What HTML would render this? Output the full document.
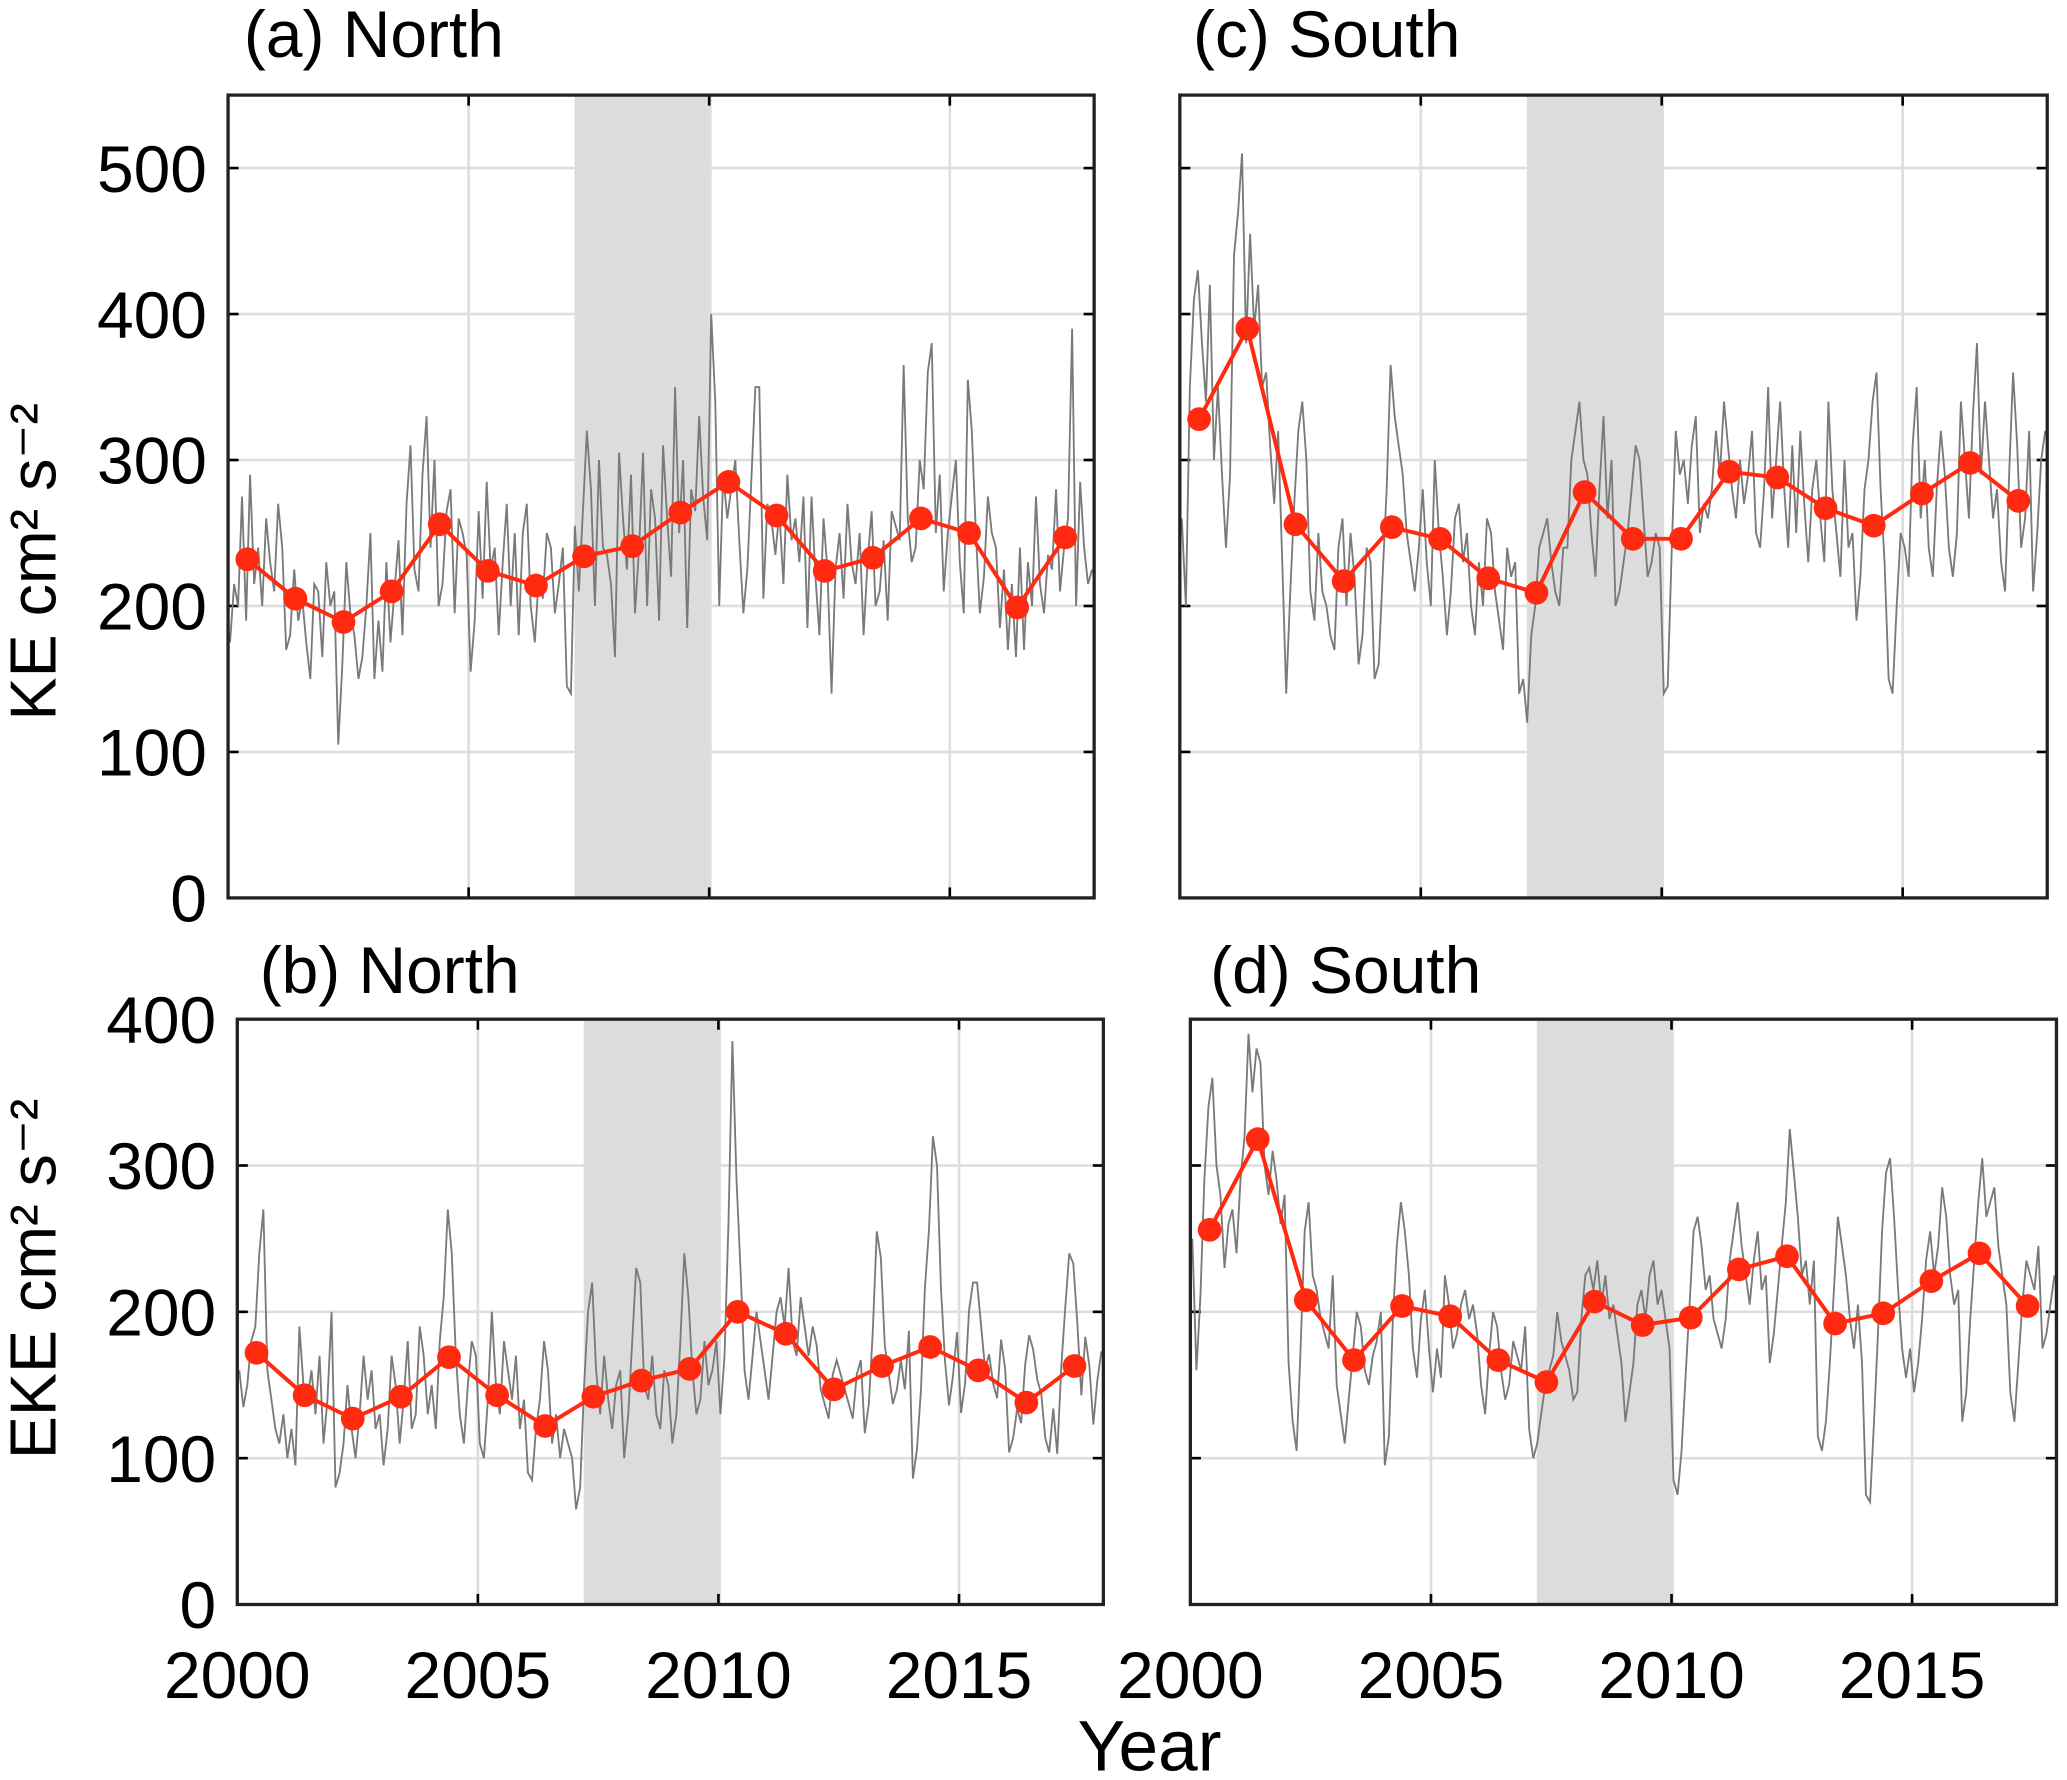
<!DOCTYPE html>
<html><head><meta charset="utf-8"><style>
html,body{margin:0;padding:0;background:#fff;}
svg{display:block;font-family:"Liberation Sans",Arial,sans-serif;}
</style></head><body>
<svg id="fig" width="2067" height="1780" viewBox="0 0 1568 1350" xmlns="http://www.w3.org/2000/svg"></svg>
<script>
const years = [2000,2001,2002,2003,2004,2005,2006,2007,2008,2009,2010,2011,2012,2013,2014,2015,2016,2017];
const xTicks = [2000,2005,2010,2015];
const keTicks = [0,100,200,300,400,500];
const ekeTicks = [0,100,200,300,400];
const shadeRange = [2007.2, 2010.05];
const annualA = [232,205,189,210,256,224,214,234,241,264,285,262,224,233,260,250,199,247];
const annualC = [328,390,256,217,254,246,219,209,278,246,246,292,288,267,255,277,298,272];
const annualB = [172,143,127,142,169,143,122,142,153,161,200,185,147,163,176,160,138,163];
const annualD = [256,318,208,167,204,197,167,152,207,191,196,229,238,192,199,221,240,204];
const monthlyA = [175,215,200,275,190,290,215,240,200,260,230,210,270,240,170,180,225,190,205,175,150,215,210,165,230,200,210,105,160,230,195,180,150,165,200,250,150,190,155,230,175,210,245,180,270,310,225,210,290,330,240,300,200,215,265,280,195,260,250,235,155,190,265,205,285,225,240,180,230,270,200,250,180,250,270,200,175,220,205,250,240,195,215,240,145,140,255,210,265,320,280,200,300,240,235,215,165,305,260,225,290,195,240,305,200,280,260,190,310,260,220,350,250,300,185,280,265,330,275,245,400,340,200,290,260,280,300,245,195,225,285,350,350,205,270,260,235,265,215,290,245,260,230,275,185,275,220,180,260,225,140,225,250,205,270,230,215,250,180,230,265,200,210,245,190,265,255,245,365,260,230,240,300,280,360,380,250,290,210,250,275,300,230,195,355,320,250,195,220,275,250,240,185,225,170,215,165,240,170,230,200,275,215,195,235,225,280,210,240,260,390,200,285,240,215,225];
const monthlyC = [260,200,350,410,430,380,340,420,300,350,290,240,290,440,470,510,380,455,390,420,350,360,310,270,320,230,140,210,270,320,340,300,210,190,250,210,200,180,170,240,260,200,250,220,160,180,240,230,150,160,220,280,365,330,310,290,250,230,210,240,280,230,200,300,250,220,180,210,260,270,230,250,200,180,230,200,260,250,210,190,170,240,220,230,140,150,120,180,200,240,250,260,230,210,200,240,240,300,320,340,300,290,250,220,280,330,260,300,200,210,230,250,280,310,300,260,220,230,250,240,140,145,240,320,290,300,270,310,330,250,270,260,280,320,290,340,310,280,260,300,270,290,320,250,240,280,350,260,300,340,280,240,310,250,320,270,230,280,300,260,230,340,280,250,220,300,240,250,190,220,280,300,340,360,280,230,150,140,200,250,240,220,310,350,260,300,240,220,280,320,290,240,220,250,340,300,260,330,380,290,340,300,260,280,230,210,290,360,310,240,260,320,210,250,300,320];
const monthlyB = [160,135,150,180,190,240,270,160,140,120,110,130,100,120,95,190,150,140,160,130,170,110,140,200,80,90,110,150,120,100,130,170,140,160,120,130,95,120,170,150,110,140,180,120,130,190,170,130,150,120,180,210,270,240,170,130,110,150,180,170,110,100,140,200,150,130,180,160,140,170,120,140,90,85,120,140,180,160,110,130,100,120,110,100,65,80,150,200,220,160,130,170,140,120,150,160,100,130,180,230,220,150,140,170,130,120,160,150,110,130,180,240,210,160,130,140,180,150,160,180,130,170,260,385,290,230,160,140,170,200,180,160,140,170,200,210,190,230,180,170,210,190,170,190,177,147,137,127,157,167,157,147,137,127,157,167,117,137,187,255,237,177,157,137,147,167,147,187,86,106,146,216,256,320,300,216,166,136,156,186,131,151,201,220,220,191,161,171,151,141,181,161,104,114,134,124,164,184,174,154,144,114,104,134,103,163,203,240,233,193,143,183,163,123,153,173];
const monthlyD = [250,160,210,290,340,360,300,280,230,260,270,240,290,320,390,350,380,370,300,280,310,290,260,280,165,125,105,175,255,275,225,215,195,185,175,225,150,130,110,140,170,200,190,160,150,170,180,200,95,115,195,245,275,255,225,175,155,195,215,175,145,175,155,225,205,175,185,205,215,195,205,185,150,130,170,200,190,160,140,150,180,170,160,190,120,100,110,130,150,160,170,200,180,170,160,140,145,195,225,230,215,235,205,225,195,205,185,165,125,145,165,205,215,195,225,235,205,215,195,175,85,75,105,155,205,255,265,245,215,225,195,185,175,195,235,255,275,245,225,205,235,255,215,225,165,185,215,245,275,325,295,265,225,235,205,235,115,105,125,165,215,265,245,225,195,175,205,165,75,70,125,185,255,295,305,265,215,175,155,175,145,165,195,235,255,225,245,285,265,225,205,215,125,145,195,235,275,305,265,275,285,245,225,205,145,125,165,205,235,225,215,245,175,185,205,225];

const NS="http://www.w3.org/2000/svg";
const svg=document.getElementById('fig');
function mk(tag,attrs,parent){const e=document.createElementNS(NS,tag);for(const k in attrs)e.setAttribute(k,attrs[k]);(parent||svg).appendChild(e);return e;}

const panels=[
 {key:'a',title:'(a) North',x0:173,x1:830,y0:72,y1:681,ymax:550,ticks:keTicks,labels:true,monthly:monthlyA,annual:annualA,tx:185,ty:43},
 {key:'c',title:'(c) South',x0:895,x1:1553,y0:72,y1:681,ymax:550,ticks:keTicks,labels:false,monthly:monthlyC,annual:annualC,tx:905,ty:43},
 {key:'b',title:'(b) North',x0:180,x1:837,y0:773,y1:1217,ymax:400,ticks:ekeTicks,labels:true,monthly:monthlyB,annual:annualB,tx:197,ty:753,xl:true},
 {key:'d',title:'(d) South',x0:903,x1:1560,y0:773,y1:1217,ymax:400,ticks:ekeTicks,labels:false,monthly:monthlyD,annual:annualD,tx:918,ty:753,xl:true},
];
panels.forEach(p=>{
  const g=mk('g',{});
  
  
  const xs=t=>p.x0+(t-2000)/18*(p.x1-p.x0);
  const ys=v=>p.y1-v/p.ymax*(p.y1-p.y0);
  const sh=mk('rect',{x:xs(shadeRange[0]),y:p.y0,width:xs(shadeRange[1])-xs(shadeRange[0]),height:p.y1-p.y0,fill:'#dcdcdc'},g);
  
  
  xTicks.forEach(t=>{ if(t>2000){const l=mk('line',{x1:xs(t),x2:xs(t),y1:p.y0,y2:p.y1,stroke:'#dedede','stroke-width':2},g);
    }
    mk('line',{x1:xs(t),x2:xs(t),y1:p.y1,y2:p.y1-8,stroke:'#000','stroke-width':2},g);
    mk('line',{x1:xs(t),x2:xs(t),y1:p.y0,y2:p.y0+8,stroke:'#000','stroke-width':2},g);
    if(p.xl){const tx=mk('text',{x:xs(t),y:p.y1+71,'font-size':50,'text-anchor':'middle'},g);tx.textContent=t;
      }
  });
  p.ticks.forEach(v=>{
    if(v>0){const l=mk('line',{x1:p.x0,x2:p.x1,y1:ys(v),y2:ys(v),stroke:'#dedede','stroke-width':2},g);
      }
    mk('line',{x1:p.x0,x2:p.x0+8,y1:ys(v),y2:ys(v),stroke:'#000','stroke-width':2},g);
    mk('line',{x1:p.x1,x2:p.x1-8,y1:ys(v),y2:ys(v),stroke:'#000','stroke-width':2},g);
    if(p.labels){const tx=mk('text',{x:p.x0-16,y:ys(v)+18,'font-size':50,'text-anchor':'end'},g);tx.textContent=v;
      }
  });
  const mpts=p.monthly.map((v,i)=>xs(2000+(i+0.5)/12).toFixed(1)+','+ys(v).toFixed(1)).join(' ');
  const ml=mk('polyline',{points:mpts,fill:'none',stroke:'#7a7a7a','stroke-width':1.4},g);
  
  
  const apts=p.annual.map((v,i)=>xs(years[i]+0.4).toFixed(1)+','+ys(v).toFixed(1)).join(' ');
  const al=mk('polyline',{points:apts,fill:'none',stroke:'#ff2a10','stroke-width':3},g);
  
  
  p.annual.forEach((v,i)=>{const c=mk('circle',{cx:xs(years[i]+0.4),cy:ys(v),r:9,fill:'#ff2a10'},g);
    
    });
  const box=mk('rect',{x:p.x0,y:p.y0,width:p.x1-p.x0,height:p.y1-p.y0,fill:'none',stroke:'#222','stroke-width':2.5},g);
  
  
  const tt=mk('text',{x:p.tx,y:p.ty,'font-size':50},g);tt.textContent=p.title;
  
  
});
const yl1=mk('text',{x:0,y:0,'font-size':49,'text-anchor':'middle',transform:'translate(42,426) rotate(-90)'});
yl1.textContent='KE cm² s⁻²';


const yl2=mk('text',{x:0,y:0,'font-size':49,'text-anchor':'middle',transform:'translate(42,970) rotate(-90)'});
yl2.textContent='EKE cm² s⁻²';


const xl=mk('text',{x:872,y:1343,'font-size':54,'text-anchor':'middle'});
xl.textContent='Year';


</script>
</body></html>
